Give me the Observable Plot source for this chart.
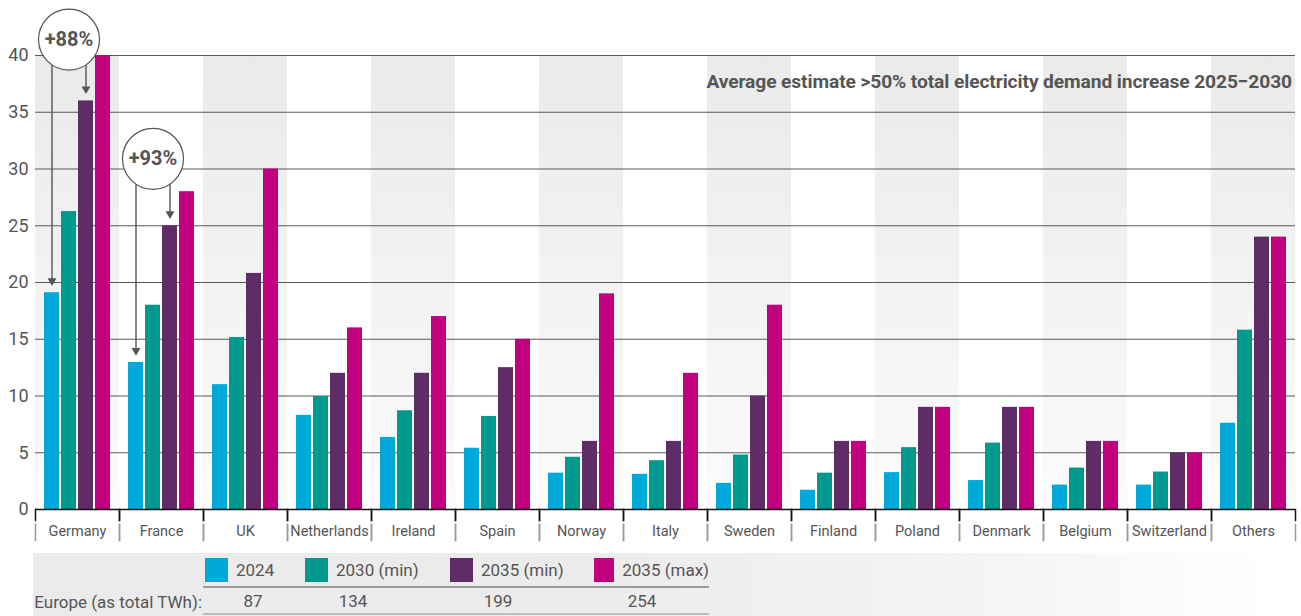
<!DOCTYPE html>
<html>
<head>
<meta charset="utf-8">
<script src="https://cdn.jsdelivr.net/npm/d3@7"></script>
<script src="https://cdn.jsdelivr.net/npm/@observablehq/plot@0.6"></script>
<style>
  body { margin: 0; background: #fff; font-family: Roboto, "Noto Sans", sans-serif; color: #555; }
  #wrap { position: relative; width: 1301px; height: 616px; overflow: hidden; }
  #title { position: absolute; right: 9px; top: 71px; font-weight: bold; font-size: 19.2px; line-height: 22px; color: #555; white-space: nowrap; letter-spacing: -0.1px; }
  #legend { position: absolute; left: 33px; top: 553px; width: 1268px; height: 63px;
            background: linear-gradient(to right, #ebebeb 0%, #ececec 45%, #f4f4f4 75%, #ffffff 98%);
            display: grid; grid-template-columns: 170px 100px 145px 144px 117px; grid-template-rows: 35px 27px; }
  .cell { display: flex; align-items: center; font-size: 17px; color: #555; white-space: nowrap; }
  .head { border-bottom: 2px solid #9a9a9a; }
  .val { border-bottom: 2px solid #bdbdbd; }
  .sw { width: 23px; height: 24px; margin-left: 2px; margin-right: 8px; }
  .num { width: 100px; text-align: center; display: block; }
  .lab { justify-content: flex-end; padding-right: 1px; }
</style>
</head>
<body>
<div id="wrap">
  <div id="chart"></div>
  <div id="title"></div>
  <div id="legend"></div>
</div>
<script>
// ---- data ----
const countries = ["Germany","France","UK","Netherlands","Ireland","Spain","Norway","Italy","Sweden","Finland","Poland","Denmark","Belgium","Switzerland","Others"];
const seriesNames = ["2024","2030 (min)","2035 (min)","2035 (max)"];
const v2024    = [19.1, 12.95, 11.0, 8.3, 6.35, 5.4, 3.2, 3.1, 2.3, 1.7, 3.25, 2.55, 2.15, 2.15, 7.6];
const v2030min = [26.25, 18.0, 15.15, 9.95, 8.7, 8.2, 4.6, 4.3, 4.8, 3.2, 5.45, 5.85, 3.65, 3.3, 15.8];
const v2035min = [36, 25, 20.8, 12, 12, 12.5, 6, 6, 10, 6, 9, 9, 6, 5, 24];
const v2035max = [40, 28, 30, 16, 17, 15, 19, 12, 18, 6, 9, 9, 6, 5, 24];
const seriesColors = ["#00a9d8", "#00998f", "#5e2d68", "#c1007f"];
const yTicks = [0, 5, 10, 15, 20, 25, 30, 35, 40];
const europeLabel = "Europe (as total TWh):";
const europeTotals = [87, 134, 199, 254];
const titleText = "Average estimate >50% total electricity demand increase 2025\u22122030";
const annotations = [
  {country: "Germany", label: "+88%", cy: 41.4, at: "2030 (min)", from: "2024", to: "2035 (min)"},
  {country: "France",  label: "+93%", cy: 30.9, at: "2030 (min)", from: "2024", to: "2035 (min)"}
];

// ---- derived tables ----
const seriesValues = [v2024, v2030min, v2035min, v2035max];
const rows = countries.flatMap((c, i) => seriesNames.map((s, k) => ({country: c, series: s, value: seriesValues[k][i]})));
const bandCountries = countries.filter((c, i) => i % 2 === 0);
const valueOf = (c, s) => seriesValues[seriesNames.indexOf(s)][countries.indexOf(c)];
const arrows = annotations.flatMap(a => [a.from, a.to].map(s => ({country: a.country, series: s, cy: a.cy, tip: valueOf(a.country, s) + 1.05})));
const yDomain = [yTicks[0], yTicks[yTicks.length - 1]];

const plot = Plot.plot({
  width: 1301,
  height: 550,
  marginTop: 55,
  marginBottom: 41,
  marginLeft: 35,
  marginRight: 6,
  style: {fontFamily: "Roboto, 'Noto Sans', sans-serif", color: "#555", background: "transparent", overflow: "visible"},
  fx: {domain: countries, padding: 0, label: null},
  x: {domain: seriesNames, paddingInner: 0.1, paddingOuter: 0.5, axis: null},
  y: {domain: yDomain, axis: null},
  color: {domain: seriesNames, range: seriesColors},
  marks: [
    Plot.rect(bandCountries, {fx: d => d, y1: yDomain[0], y2: yDomain[1], fill: "url(#bandGrad)"}),
    Plot.ruleY(yTicks.slice(1), {stroke: "#5a5a5a", strokeWidth: 1.2}),
    Plot.barY(rows, {fx: "country", x: "series", y: "value", fill: "series"}),
    Plot.ruleY([0], {stroke: "#111", strokeWidth: 1.6}),
    Plot.axisY({ticks: yTicks, tickSize: 0, tickPadding: 7, fontSize: 18, label: null}),
    Plot.axisFx({anchor: "bottom", tickSize: 0, tickPadding: 16, fontSize: 14.5, label: null}),
    Plot.frame({anchor: "left", stroke: "#111", strokeWidth: 1.5, insetTop: 454, insetBottom: -11}),
    Plot.frame({anchor: "right", stroke: "#111", strokeWidth: 1.5, insetTop: 454, insetBottom: -11}),
    Plot.frame({anchor: "left", stroke: "#999", strokeWidth: 1.5, insetTop: 469, insetBottom: -31}),
    Plot.frame({anchor: "right", stroke: "#999", strokeWidth: 1.5, insetTop: 469, insetBottom: -31}),
    // annotations
    Plot.ruleX(arrows, {fx: "country", x: "series", y1: "cy", y2: "tip", stroke: "#555", strokeWidth: 1.4}),
    Plot.dot(arrows, {fx: "country", x: "series", y: "tip", symbol: "triangle", rotate: 180, r: 3.3, fill: "#555", stroke: "none"}),
    Plot.dot(annotations, {fx: "country", x: "at", y: "cy", r: 30.5, fill: "white", stroke: "#555", strokeWidth: 1.2}),
    Plot.text(annotations, {fx: "country", x: "at", y: "cy", text: "label", fontSize: 20, fontWeight: "bold", fill: "#555"})
  ]
});

// gradient defs for the alternating background bands
const svgSel = d3.select(plot);
const grad = svgSel.insert("defs", ":first-child").append("linearGradient")
  .attr("id", "bandGrad").attr("x1", 0).attr("y1", 0).attr("x2", 0).attr("y2", 1);
grad.append("stop").attr("offset", "0%").attr("stop-color", "#eaeaea");
grad.append("stop").attr("offset", "100%").attr("stop-color", "#fbfbfb");

document.getElementById("chart").append(plot);
document.getElementById("title").textContent = titleText;

// legend / summary table
const lg = document.getElementById("legend");
const mk = (cls) => { const d = document.createElement("div"); d.className = cls; lg.append(d); return d; };
mk("cell");
seriesNames.forEach((s, k) => {
  const c = mk("cell head");
  const sw = document.createElement("span"); sw.className = "sw"; sw.style.background = seriesColors[k];
  const t = document.createElement("span"); t.textContent = s;
  c.append(sw, t);
});
mk("cell lab").textContent = europeLabel;
europeTotals.forEach(v => {
  const c = mk("cell val");
  const n = document.createElement("span"); n.className = "num"; n.textContent = v;
  c.append(n);
});
</script>
</body>
</html>
